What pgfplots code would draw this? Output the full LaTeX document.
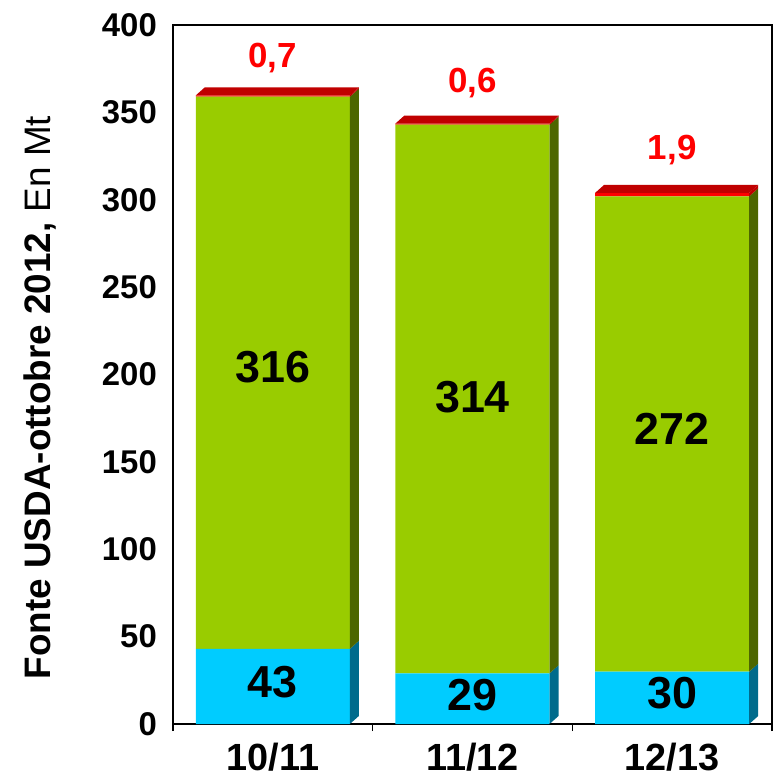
\documentclass[border=0pt]{standalone}
\usepackage{fontspec}
\setmainfont{Liberation Sans}
\usepackage{pgfplots}
\pgfplotsset{compat=1.18}
\definecolor{cyf}{HTML}{00CCFF}
\definecolor{cys}{HTML}{006B8C}
\definecolor{grf}{HTML}{99CC00}
\definecolor{grs}{HTML}{4D6600}
\definecolor{rdf}{HTML}{FF0000}
\definecolor{rds}{HTML}{C00000}
\begin{document}
\begin{tikzpicture}
\begin{axis}[name=ax, scale only axis, width=599bp, height=699bp,
  xmin=-0.5, xmax=2.5, ymin=0, ymax=400,
  ybar stacked, bar width=0.772,
  xtick={0,1,2}, xticklabels={10/11,11/12,12/13},
  minor xtick={-0.5,0.5,1.5,2.5},
  ytick={0,50,...,400},
  xtick pos=left, ytick pos=left,
  major tick length=0pt, minor tick length=7bp, tick align=outside,
  minor tick style={line width=1.5bp, black},
  axis line style={line width=1.5bp, black},
  /pgf/number format/assume math mode=true,
  yticklabel style={font=\bfseries\fontsize{33}{33}\selectfont, anchor=east, inner sep=0pt, xshift=-16bp},
  xticklabel style={font=\bfseries\fontsize{38}{38}\selectfont, anchor=north, inner sep=0pt, yshift=-19bp},
  ylabel={\textbf{Fonte USDA-ottobre 2012,} En Mt},
  every axis y label/.style={at={(rel axis cs:-0.222,0.467)}, rotate=90, anchor=center, font=\fontsize{37}{37}\selectfont},
]
\addplot[fill=cyf, draw=none] coordinates {(0,43) (1,29) (2,30)};
\addplot[fill=grf, draw=none] coordinates {(0,316) (1,314) (2,272)};
\addplot[fill=rdf, draw=none] coordinates {(0,0.7) (1,0.6) (2,1.9)};
\end{axis}
\begin{axis}[at={(ax.south west)}, anchor=south west, scale only axis, width=599bp, height=699bp,
  xmin=-0.5, xmax=2.5, ymin=0, ymax=400, hide axis, clip=false]
% bar 1 side faces and top
\addplot[fill=cys, draw=none] coordinates {(0.386,0) (0.431,4.6) (0.431,47.6) (0.386,43)};
\addplot[fill=grs, draw=none] coordinates {(0.386,43) (0.431,47.6) (0.431,363.6) (0.386,359)};
\addplot[fill=rds, draw=none] coordinates {(0.386,359) (0.431,363.6) (0.431,364.3) (0.386,359.7)};
\addplot[fill=rds, draw=none] coordinates {(-0.386,359.7) (-0.341,364.3) (0.431,364.3) (0.386,359.7)};
% bar 2
\addplot[fill=cys, draw=none] coordinates {(1.386,0) (1.431,4.6) (1.431,33.6) (1.386,29)};
\addplot[fill=grs, draw=none] coordinates {(1.386,29) (1.431,33.6) (1.431,347.6) (1.386,343)};
\addplot[fill=rds, draw=none] coordinates {(1.386,343) (1.431,347.6) (1.431,348.2) (1.386,343.6)};
\addplot[fill=rds, draw=none] coordinates {(0.614,343.6) (0.659,348.2) (1.431,348.2) (1.386,343.6)};
% bar 3
\addplot[fill=cys, draw=none] coordinates {(2.386,0) (2.431,4.6) (2.431,34.6) (2.386,30)};
\addplot[fill=grs, draw=none] coordinates {(2.386,30) (2.431,34.6) (2.431,306.6) (2.386,302)};
\addplot[fill=rds, draw=none] coordinates {(2.386,302) (2.431,306.6) (2.431,308.5) (2.386,303.9)};
\addplot[fill=rds, draw=none] coordinates {(1.614,303.9) (1.659,308.5) (2.431,308.5) (2.386,303.9)};
% labels
\begin{scope}[every node/.style={font=\bfseries\fontsize{45}{45}\selectfont, inner sep=0pt}]
\node at (axis cs:0,204) {316};
\node at (axis cs:1,187) {314};
\node at (axis cs:2,169) {272};
\node at (axis cs:0,24) {43};
\node at (axis cs:1,16.6) {29};
\node at (axis cs:2,17.7) {30};
\end{scope}
\begin{scope}[every node/.style={font=\bfseries\fontsize{35}{35}\selectfont, inner sep=0pt, text=rdf}]
\node at (axis cs:0,381) {0,7};
\node at (axis cs:1,367) {0,6};
\node at (axis cs:2,328.5) {1,9};
\end{scope}
\end{axis}
\pgfresetboundingbox
\path ([shift={(-173bp,-55bp)}]ax.south west) rectangle ++(776bp,779bp);
\end{tikzpicture}
\end{document}
